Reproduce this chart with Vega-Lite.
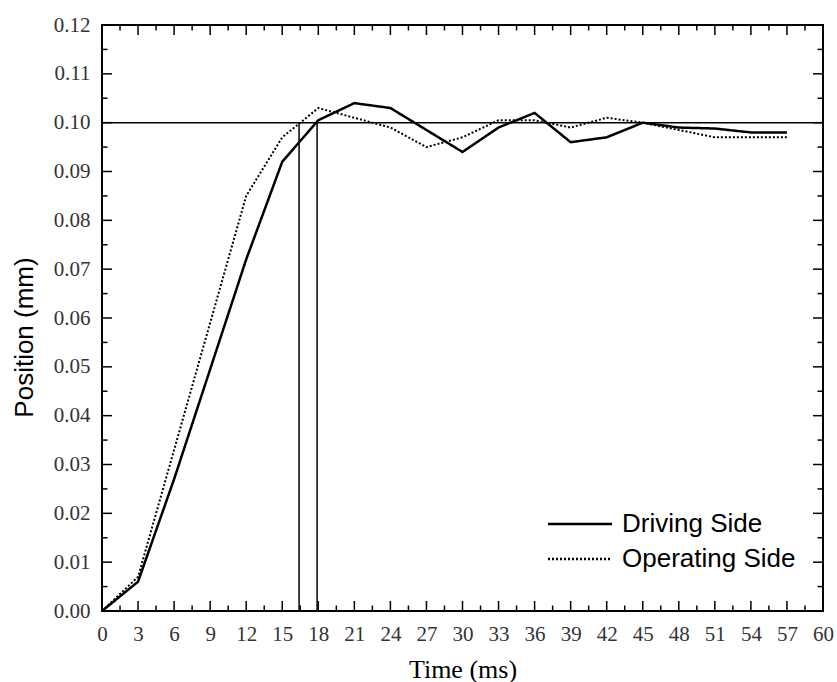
{
  "$schema": "https://vega.github.io/schema/vega-lite/v6.json",
  "width": 721,
  "height": 586,
  "autosize": {"type": "none"},
  "padding": {"left": 102, "top": 25, "right": 14, "bottom": 71},
  "background": "white",
  "config": {
    "view": {"stroke": "#000", "strokeWidth": 2},
    "axis": {
      "domain": false,
      "grid": false,
      "ticks": false,
      "labelFont": "Liberation Serif",
      "labelFontSize": 21,
      "labelColor": "#333",
      "labelFlush": false,
      "labelOverlap": false,
      "titleColor": "#000",
      "titleFontWeight": "normal"
    },
    "legend": {
      "title": null,
      "symbolType": "M-1,0H7",
      "symbolSize": 256,
      "symbolStrokeWidth": 2.5,
      "symbolStrokeColor": "#000",
      "symbolFillColor": "transparent",
      "labelFont": "Liberation Sans",
      "labelFontSize": 26,
      "labelColor": "#000",
      "labelLimit": 0,
      "labelOffset": 53,
      "rowPadding": 9,
      "padding": 0
    }
  },
  "datasets": {
    "curves": [
      {"series": "Driving Side", "t": 0, "v": 0},
      {"series": "Driving Side", "t": 3, "v": 0.006},
      {"series": "Driving Side", "t": 6, "v": 0.027},
      {"series": "Driving Side", "t": 9, "v": 0.0495},
      {"series": "Driving Side", "t": 12, "v": 0.072},
      {"series": "Driving Side", "t": 15, "v": 0.092},
      {"series": "Driving Side", "t": 18, "v": 0.1005},
      {"series": "Driving Side", "t": 21, "v": 0.104},
      {"series": "Driving Side", "t": 24, "v": 0.103},
      {"series": "Driving Side", "t": 27, "v": 0.0985},
      {"series": "Driving Side", "t": 30, "v": 0.094},
      {"series": "Driving Side", "t": 33, "v": 0.099},
      {"series": "Driving Side", "t": 36, "v": 0.102},
      {"series": "Driving Side", "t": 39, "v": 0.096},
      {"series": "Driving Side", "t": 42, "v": 0.097},
      {"series": "Driving Side", "t": 45, "v": 0.1},
      {"series": "Driving Side", "t": 48, "v": 0.099},
      {"series": "Driving Side", "t": 51, "v": 0.0988},
      {"series": "Driving Side", "t": 54, "v": 0.098},
      {"series": "Driving Side", "t": 57, "v": 0.098},
      {"series": "Operating Side", "t": 0, "v": 0},
      {"series": "Operating Side", "t": 3, "v": 0.007},
      {"series": "Operating Side", "t": 6, "v": 0.033},
      {"series": "Operating Side", "t": 9, "v": 0.059},
      {"series": "Operating Side", "t": 12, "v": 0.085},
      {"series": "Operating Side", "t": 15, "v": 0.097},
      {"series": "Operating Side", "t": 18, "v": 0.103},
      {"series": "Operating Side", "t": 21, "v": 0.101},
      {"series": "Operating Side", "t": 24, "v": 0.099},
      {"series": "Operating Side", "t": 27, "v": 0.095},
      {"series": "Operating Side", "t": 30, "v": 0.097},
      {"series": "Operating Side", "t": 33, "v": 0.1005},
      {"series": "Operating Side", "t": 36, "v": 0.1005},
      {"series": "Operating Side", "t": 39, "v": 0.099},
      {"series": "Operating Side", "t": 42, "v": 0.101},
      {"series": "Operating Side", "t": 45, "v": 0.1},
      {"series": "Operating Side", "t": 48, "v": 0.0985},
      {"series": "Operating Side", "t": 51, "v": 0.097},
      {"series": "Operating Side", "t": 54, "v": 0.097},
      {"series": "Operating Side", "t": 57, "v": 0.097}
    ],
    "hline": [{"t": 0, "t2": 60, "v": 0.1}],
    "vlines": [
      {"t": 16.4, "v": 0, "v2": 0.1},
      {"t": 17.9, "v": 0, "v2": 0.1}
    ],
    "xmajor": [
      {"t": 0, "v": 0}, {"t": 3, "v": 0}, {"t": 6, "v": 0}, {"t": 9, "v": 0}, {"t": 12, "v": 0}, {"t": 15, "v": 0}, {"t": 18, "v": 0}, {"t": 21, "v": 0}, {"t": 24, "v": 0}, {"t": 27, "v": 0}, {"t": 30, "v": 0}, {"t": 33, "v": 0}, {"t": 36, "v": 0}, {"t": 39, "v": 0}, {"t": 42, "v": 0}, {"t": 45, "v": 0}, {"t": 48, "v": 0}, {"t": 51, "v": 0}, {"t": 54, "v": 0}, {"t": 57, "v": 0}, {"t": 60, "v": 0},
      {"t": 0, "v": 0.12}, {"t": 3, "v": 0.12}, {"t": 6, "v": 0.12}, {"t": 9, "v": 0.12}, {"t": 12, "v": 0.12}, {"t": 15, "v": 0.12}, {"t": 18, "v": 0.12}, {"t": 21, "v": 0.12}, {"t": 24, "v": 0.12}, {"t": 27, "v": 0.12}, {"t": 30, "v": 0.12}, {"t": 33, "v": 0.12}, {"t": 36, "v": 0.12}, {"t": 39, "v": 0.12}, {"t": 42, "v": 0.12}, {"t": 45, "v": 0.12}, {"t": 48, "v": 0.12}, {"t": 51, "v": 0.12}, {"t": 54, "v": 0.12}, {"t": 57, "v": 0.12}, {"t": 60, "v": 0.12}
    ],
    "xminor": [
      {"t": 1.5, "v": 0}, {"t": 4.5, "v": 0}, {"t": 7.5, "v": 0}, {"t": 10.5, "v": 0}, {"t": 13.5, "v": 0}, {"t": 16.5, "v": 0}, {"t": 19.5, "v": 0}, {"t": 22.5, "v": 0}, {"t": 25.5, "v": 0}, {"t": 28.5, "v": 0}, {"t": 31.5, "v": 0}, {"t": 34.5, "v": 0}, {"t": 37.5, "v": 0}, {"t": 40.5, "v": 0}, {"t": 43.5, "v": 0}, {"t": 46.5, "v": 0}, {"t": 49.5, "v": 0}, {"t": 52.5, "v": 0}, {"t": 55.5, "v": 0}, {"t": 58.5, "v": 0},
      {"t": 1.5, "v": 0.12}, {"t": 4.5, "v": 0.12}, {"t": 7.5, "v": 0.12}, {"t": 10.5, "v": 0.12}, {"t": 13.5, "v": 0.12}, {"t": 16.5, "v": 0.12}, {"t": 19.5, "v": 0.12}, {"t": 22.5, "v": 0.12}, {"t": 25.5, "v": 0.12}, {"t": 28.5, "v": 0.12}, {"t": 31.5, "v": 0.12}, {"t": 34.5, "v": 0.12}, {"t": 37.5, "v": 0.12}, {"t": 40.5, "v": 0.12}, {"t": 43.5, "v": 0.12}, {"t": 46.5, "v": 0.12}, {"t": 49.5, "v": 0.12}, {"t": 52.5, "v": 0.12}, {"t": 55.5, "v": 0.12}, {"t": 58.5, "v": 0.12}
    ],
    "ymajor": [
      {"t": 0, "v": 0}, {"t": 0, "v": 0.01}, {"t": 0, "v": 0.02}, {"t": 0, "v": 0.03}, {"t": 0, "v": 0.04}, {"t": 0, "v": 0.05}, {"t": 0, "v": 0.06}, {"t": 0, "v": 0.07}, {"t": 0, "v": 0.08}, {"t": 0, "v": 0.09}, {"t": 0, "v": 0.1}, {"t": 0, "v": 0.11}, {"t": 0, "v": 0.12},
      {"t": 60, "v": 0}, {"t": 60, "v": 0.01}, {"t": 60, "v": 0.02}, {"t": 60, "v": 0.03}, {"t": 60, "v": 0.04}, {"t": 60, "v": 0.05}, {"t": 60, "v": 0.06}, {"t": 60, "v": 0.07}, {"t": 60, "v": 0.08}, {"t": 60, "v": 0.09}, {"t": 60, "v": 0.1}, {"t": 60, "v": 0.11}, {"t": 60, "v": 0.12}
    ],
    "yminor": [
      {"t": 0, "v": 0.005}, {"t": 0, "v": 0.015}, {"t": 0, "v": 0.025}, {"t": 0, "v": 0.035}, {"t": 0, "v": 0.045}, {"t": 0, "v": 0.055}, {"t": 0, "v": 0.065}, {"t": 0, "v": 0.075}, {"t": 0, "v": 0.085}, {"t": 0, "v": 0.095}, {"t": 0, "v": 0.105}, {"t": 0, "v": 0.115},
      {"t": 60, "v": 0.005}, {"t": 60, "v": 0.015}, {"t": 60, "v": 0.025}, {"t": 60, "v": 0.035}, {"t": 60, "v": 0.045}, {"t": 60, "v": 0.055}, {"t": 60, "v": 0.065}, {"t": 60, "v": 0.075}, {"t": 60, "v": 0.085}, {"t": 60, "v": 0.095}, {"t": 60, "v": 0.105}, {"t": 60, "v": 0.115}
    ]
  },
  "encoding": {
    "x": {
      "field": "t", "type": "quantitative",
      "scale": {"domain": [0, 60], "nice": false, "zero": false},
      "axis": {
        "orient": "bottom",
        "values": [0,3,6,9,12,15,18,21,24,27,30,33,36,39,42,45,48,51,54,57,60],
        "labelPadding": 12,
        "title": "Time (ms)",
        "titleFont": "Liberation Serif",
        "titleFontSize": 26,
        "titlePadding": 12
      }
    },
    "y": {
      "field": "v", "type": "quantitative",
      "scale": {"domain": [0, 0.12], "nice": false, "zero": false},
      "axis": {
        "orient": "left",
        "values": [0,0.01,0.02,0.03,0.04,0.05,0.06,0.07,0.08,0.09,0.1,0.11,0.12],
        "format": ".2f",
        "labelPadding": 12,
        "title": "Position (mm)",
        "titleFont": "Liberation Sans",
        "titleFontSize": 26,
        "titlePadding": 16,
        "titleY": 312
      }
    }
  },
  "layer": [
    {
      "data": {"name": "curves"},
      "transform": [{"filter": "datum.series === 'Driving Side'"}],
      "mark": {"type": "line", "color": "#000", "strokeWidth": 2.5},
      "encoding": {
        "strokeDash": {
          "field": "series", "type": "nominal",
          "scale": {"domain": ["Driving Side", "Operating Side"], "range": [[1, 0], [2, 2]]},
          "legend": {"orient": "none", "legendX": 441, "legendY": 486}
        }
      }
    },
    {
      "data": {"name": "curves"},
      "transform": [{"filter": "datum.series === 'Operating Side'"}],
      "mark": {"type": "line", "color": "#000", "strokeWidth": 2},
      "encoding": {
        "strokeDash": {"field": "series", "type": "nominal"}
      }
    },
    {
      "data": {"name": "hline"},
      "mark": {"type": "rule", "color": "#000", "strokeWidth": 1.5},
      "encoding": {"x2": {"field": "t2"}}
    },
    {
      "data": {"name": "vlines"},
      "mark": {"type": "rule", "color": "#000", "strokeWidth": 1.5},
      "encoding": {"y2": {"field": "v2"}}
    },
    {
      "data": {"name": "xmajor"},
      "transform": [{"filter": "datum.v === 0"}],
      "mark": {"type": "rule", "color": "#000", "strokeWidth": 1.5, "y2Offset": -10},
      "encoding": {"y2": {"field": "v"}}
    },
    {
      "data": {"name": "xmajor"},
      "transform": [{"filter": "datum.v > 0"}],
      "mark": {"type": "rule", "color": "#000", "strokeWidth": 1.5, "y2Offset": 10},
      "encoding": {"y2": {"field": "v"}}
    },
    {
      "data": {"name": "xminor"},
      "transform": [{"filter": "datum.v === 0"}],
      "mark": {"type": "rule", "color": "#000", "strokeWidth": 1.5, "y2Offset": -5.5},
      "encoding": {"y2": {"field": "v"}}
    },
    {
      "data": {"name": "xminor"},
      "transform": [{"filter": "datum.v > 0"}],
      "mark": {"type": "rule", "color": "#000", "strokeWidth": 1.5, "y2Offset": 5.5},
      "encoding": {"y2": {"field": "v"}}
    },
    {
      "data": {"name": "ymajor"},
      "transform": [{"filter": "datum.t === 0"}],
      "mark": {"type": "rule", "color": "#000", "strokeWidth": 1.5, "x2Offset": 10},
      "encoding": {"x2": {"field": "t"}}
    },
    {
      "data": {"name": "ymajor"},
      "transform": [{"filter": "datum.t > 0"}],
      "mark": {"type": "rule", "color": "#000", "strokeWidth": 1.5, "x2Offset": -10},
      "encoding": {"x2": {"field": "t"}}
    },
    {
      "data": {"name": "yminor"},
      "transform": [{"filter": "datum.t === 0"}],
      "mark": {"type": "rule", "color": "#000", "strokeWidth": 1.5, "x2Offset": 5.5},
      "encoding": {"x2": {"field": "t"}}
    },
    {
      "data": {"name": "yminor"},
      "transform": [{"filter": "datum.t > 0"}],
      "mark": {"type": "rule", "color": "#000", "strokeWidth": 1.5, "x2Offset": -5.5},
      "encoding": {"x2": {"field": "t"}}
    }
  ]
}
